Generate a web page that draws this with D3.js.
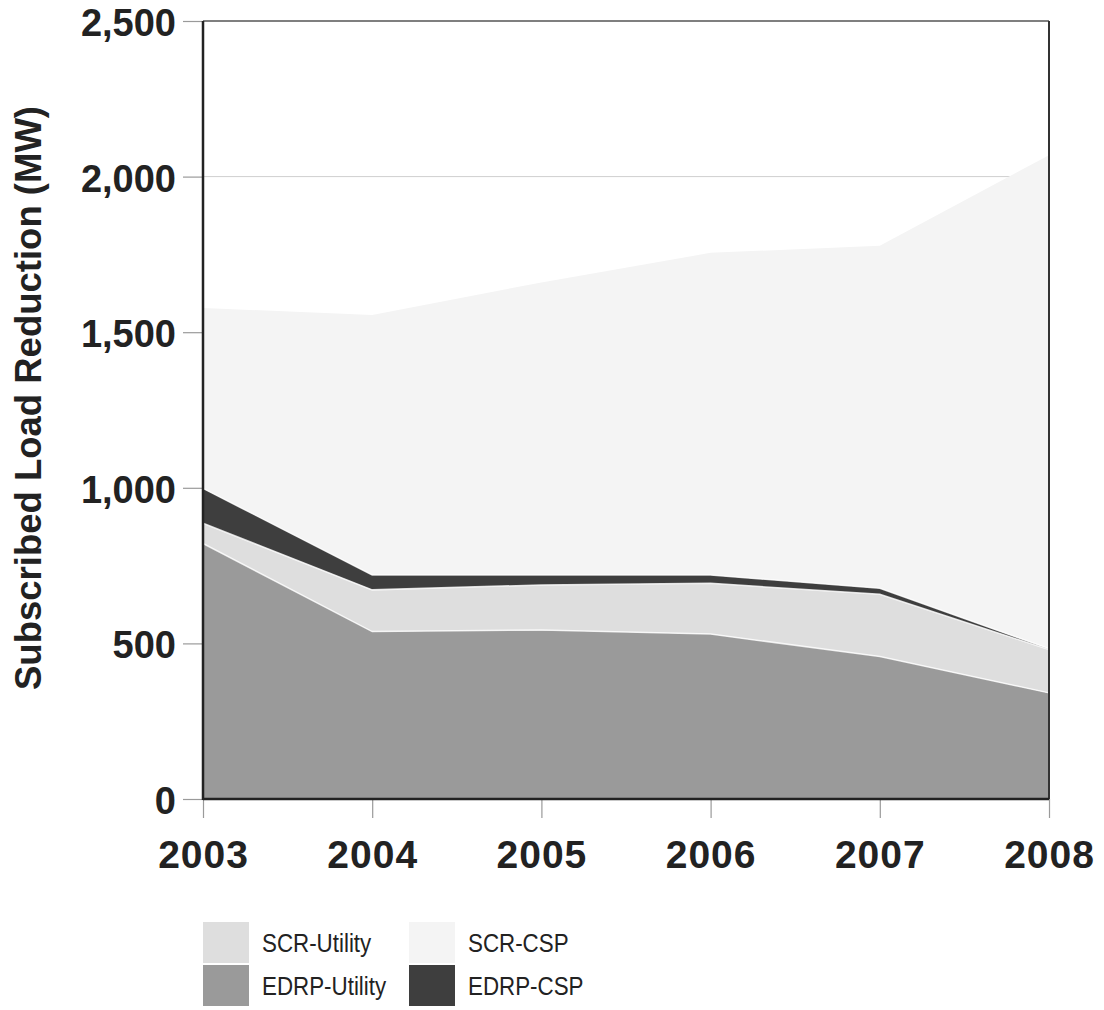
<!DOCTYPE html>
<html>
<head>
<meta charset="utf-8">
<script src="https://cdn.jsdelivr.net/npm/d3@7"></script>
<style>
  html, body { margin: 0; padding: 0; background: #fff; }
  svg { display: block; }
</style>
</head>
<body>
<svg id="chart" width="1104" height="1010"></svg>
<script>
// ---- data ----
const years = [2003, 2004, 2005, 2006, 2007, 2008];
const edrpUtility = [821, 538, 543, 530, 458, 341];
const scrUtility  = [65, 134, 145, 163, 200, 139];
const edrpCsp     = [112, 48, 32, 27, 19, 3];
const scrCsp      = [580, 835, 940, 1035, 1101, 1586];
const seriesNames = ["EDRP-Utility", "SCR-Utility", "EDRP-CSP", "SCR-CSP"];
const yTicks = [0, 500, 1000, 1500, 2000, 2500];
const yTitle = "Subscribed Load Reduction (MW)";

const colors = {
  "EDRP-Utility": "#9a9a9a",
  "SCR-Utility": "#dedede",
  "EDRP-CSP": "#3e3e3e",
  "SCR-CSP": "#f4f4f4"
};

const table = years.map((yr, i) => ({
  year: yr,
  "EDRP-Utility": edrpUtility[i],
  "SCR-Utility": scrUtility[i],
  "EDRP-CSP": edrpCsp[i],
  "SCR-CSP": scrCsp[i]
}));

(function () {
const svg = d3.select("#chart");
const mL = 203, mR = 1049, mT = 21, mB = 799;

const x = d3.scaleLinear().domain([2003, 2008]).range([mL, mR]);
const y = d3.scaleLinear().domain([0, 2500]).range([mB, mT]);

// gridlines
svg.append("g").selectAll("line").data(yTicks.filter(d => d > 0 && d < 2500)).join("line")
  .attr("x1", mL).attr("x2", mR)
  .attr("y1", d => y(d)).attr("y2", d => y(d))
  .attr("stroke", "#cfcfcf").attr("stroke-width", 1);

// stacked areas
const stack = d3.stack().keys(seriesNames);
const layers = stack(table);
const area = d3.area()
  .x(d => x(d.data.year))
  .y0(d => y(d[0]))
  .y1(d => y(d[1]));
const topLine = d3.line().x(d => x(d.data.year)).y(d => y(d[1]));

svg.append("g").selectAll("path").data(layers).join("path")
  .attr("d", area)
  .attr("fill", d => colors[d.key]);

svg.append("g").selectAll("path").data(layers.slice(0, 3)).join("path")
  .attr("d", topLine)
  .attr("fill", "none")
  .attr("stroke", "#ffffff")
  .attr("stroke-width", 1.5)
  .attr("opacity", 0.8);

// y axis
const yAxis = d3.axisLeft(y).tickValues(yTicks).tickSize(20).tickPadding(7)
  .tickFormat(d3.format(","));
const gy = svg.append("g").attr("transform", `translate(${mL},0)`).call(yAxis);
gy.select(".domain").remove();
gy.selectAll(".tick line").attr("stroke", "#9a9a9a").attr("stroke-width", 1.2);
gy.selectAll(".tick text")
  .attr("font-family", "Liberation Sans, Arial, sans-serif")
  .attr("font-weight", "bold").attr("font-size", 38).attr("fill", "#222")
  .attr("dy", "0.38em");

// x axis
const xAxis = d3.axisBottom(x).tickValues(years).tickSize(19).tickPadding(22)
  .tickFormat(d3.format("d"));
const gx = svg.append("g").attr("transform", `translate(0,${mB})`).call(xAxis);
gx.select(".domain").remove();
gx.selectAll(".tick line").attr("stroke", "#9a9a9a").attr("stroke-width", 1.2);
gx.selectAll(".tick text")
  .attr("font-family", "Liberation Sans, Arial, sans-serif")
  .attr("font-weight", "bold").attr("font-size", 39).attr("fill", "#222")
  .attr("letter-spacing", 1);

// frame
svg.append("line").attr("x1", mL).attr("x2", mR).attr("y1", mT).attr("y2", mT)
  .attr("stroke", "#555").attr("stroke-width", 1.5);
svg.append("line").attr("x1", mR).attr("x2", mR).attr("y1", mT).attr("y2", mB)
  .attr("stroke", "#333").attr("stroke-width", 2);
svg.append("line").attr("x1", mL).attr("x2", mL).attr("y1", mT).attr("y2", mB + 1)
  .attr("stroke", "#222").attr("stroke-width", 2.5);
svg.append("line").attr("x1", mL).attr("x2", mR).attr("y1", mB).attr("y2", mB)
  .attr("stroke", "#222").attr("stroke-width", 2.5);

// y title
svg.append("text")
  .attr("transform", `translate(41,398) rotate(-90)`)
  .attr("text-anchor", "middle")
  .attr("font-family", "Liberation Sans, Arial, sans-serif")
  .attr("font-weight", "bold").attr("font-size", 36.5).attr("fill", "#222")
  .text(yTitle);

// legend
const legendItems = [
  { key: "SCR-Utility", col: 0, row: 0 },
  { key: "SCR-CSP", col: 1, row: 0 },
  { key: "EDRP-Utility", col: 0, row: 1 },
  { key: "EDRP-CSP", col: 1, row: 1 }
];
const lg = svg.append("g");
const colX = [203, 409], rowY = [922, 965];
legendItems.forEach(it => {
  lg.append("rect").attr("x", colX[it.col]).attr("y", rowY[it.row])
    .attr("width", 46).attr("height", 41).attr("fill", colors[it.key]);
  lg.append("text")
    .attr("transform", `translate(${colX[it.col] + 59},${rowY[it.row] + 30}) scale(0.86,1)`)
    .attr("font-family", "Liberation Sans, Arial, sans-serif")
    .attr("font-size", 26).attr("fill", "#222")
    .text(it.key);
});
})();
</script>
</body>
</html>
